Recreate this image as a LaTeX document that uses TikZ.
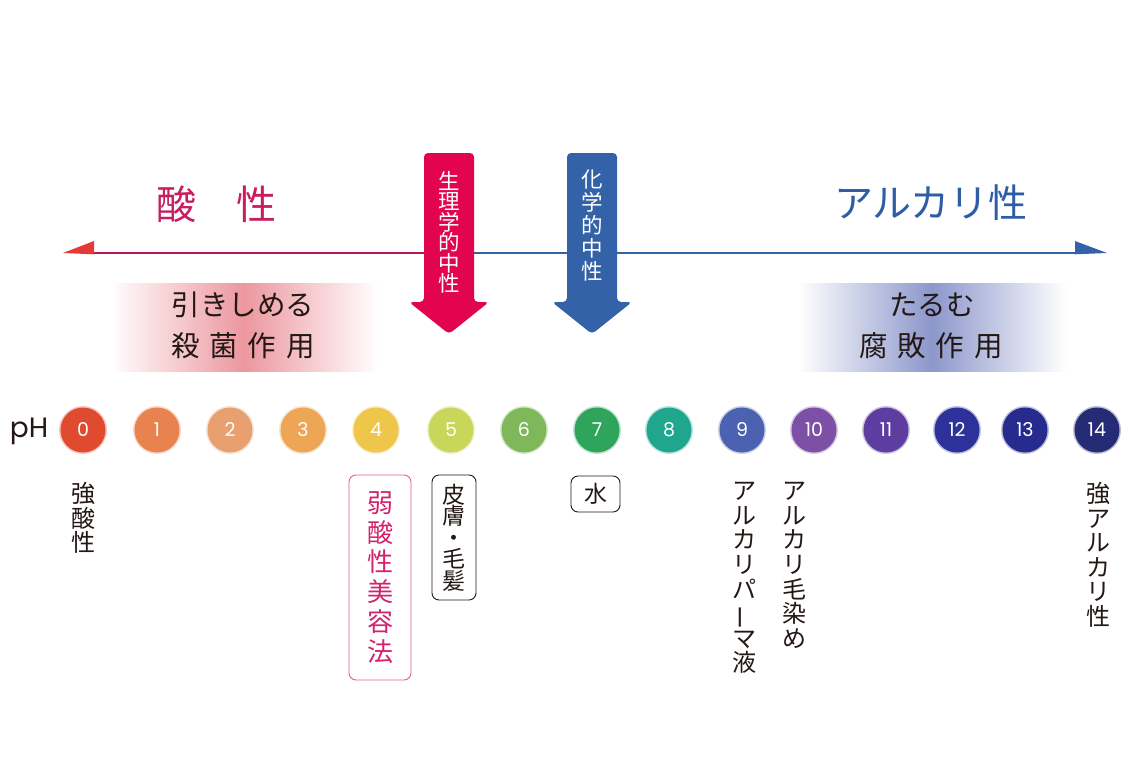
\documentclass[tikz,border=0pt]{standalone}
\usepackage{fontspec}
\setmainfont{Noto Sans CJK JP}
\newfontfamily\geo{Poppins}
\definecolor{acid}{HTML}{C81E5E}
\definecolor{acidline}{HTML}{B8175A}
\definecolor{redtri}{HTML}{E53935}
\definecolor{pinkarrow}{HTML}{E2044F}
\definecolor{bluearrow}{HTML}{3462A8}
\definecolor{alk}{HTML}{2E5DA6}
\definecolor{pinkG}{HTML}{EC979F}
\definecolor{blueG}{HTML}{8C97CB}
\definecolor{ink}{HTML}{231815}
\definecolor{pinktext}{HTML}{D2236C}
\definecolor{pinkbox}{HTML}{DF5C8C}
\definecolor{c0}{HTML}{E04A2E}
\definecolor{c1}{HTML}{E8824E}
\definecolor{c2}{HTML}{E8A070}
\definecolor{c3}{HTML}{EDA656}
\definecolor{c4}{HTML}{EDC64A}
\definecolor{c5}{HTML}{C9D65A}
\definecolor{c6}{HTML}{7EB85A}
\definecolor{c7}{HTML}{2EA55B}
\definecolor{c8}{HTML}{21A68E}
\definecolor{c9}{HTML}{4B62B0}
\definecolor{c10}{HTML}{7D4FA5}
\definecolor{c11}{HTML}{5D3EA0}
\definecolor{c12}{HTML}{2D3199}
\definecolor{c13}{HTML}{272B8E}
\definecolor{c14}{HTML}{252B74}
\newcommand{\vbar}{\rotatebox[origin=c]{90}{ー}}
\begin{document}
\begin{tikzpicture}[x=1pt,y=-1pt,
  every node/.style={inner sep=0pt},
  vlabel/.style={align=center, anchor=north, text=ink, font=\fontsize{24}{24.6}\selectfont},
  phdot/.style={circle, minimum size=45pt, text=white, font=\geo\fontsize{19}{19}\selectfont},
  tagbox/.style={draw=#1, rounded corners=7pt, line width=0.9pt, align=center},
  effect/.style={text=ink, font=\fontsize{28.5}{28.5}\selectfont},
  title/.style={font=\fontsize{40}{40}\selectfont},
  arrowtext/.style={align=center, anchor=north, text=white}
]
\useasboundingbox (0,0) rectangle (1141,761);
\fill[white] (0,0) rectangle (1141,761);

% gradient boxes
\shade[left color=white, right color=white, middle color=pinkG] (110,283) rectangle (378,371);
\shade[left color=white, right color=white, middle color=blueG] (798,283) rectangle (1066,371);

% axis
\coordinate (axL) at (63,253);
\coordinate (axM) at (449,253);
\coordinate (axR) at (1107,253);
\draw[acidline, line width=2.6pt] (axM) -- (94,253);
\draw[bluearrow, line width=2.6pt] (axM) -- (1076,253);
\fill[redtri] (axL) -- (94,241) -- (94,254.3) -- cycle;
\fill[bluearrow] (axR) -- (1075,241) -- (1075,254.3) -- cycle;

% titles
\node[title, text=acid] (acidT) at (216,204) {酸　性};
\node[title, text=alk, font=\fontsize{39}{39}\selectfont] (alkT) at (931,203) {アルカリ性};

% down arrows
\fill[pinkarrow, rounded corners=4pt] (424,302) -- (424,153) -- (474,153) -- (474,302) -- (489,302) -- (449,334) -- (409,302) -- cycle;
\fill[bluearrow, rounded corners=4pt] (567,302) -- (567,153) -- (617,153) -- (617,302) -- (632,302) -- (592,334) -- (552,302) -- cycle;
\node[arrowtext, font=\fontsize{21.5}{20.5}\selectfont] (physN) at (449,171) {生\\理\\学\\的\\中\\性};
\node[arrowtext, font=\fontsize{21.5}{23}\selectfont] (chemN) at (592,170) {化\\学\\的\\中\\性};

% effects
\node[effect] (acid1) at (243,305) {引きしめる};
\node[effect] (acid2) at (243,346) {殺\hspace{10pt}菌\hspace{10pt}作\hspace{10pt}用};
\node[effect] (alk1) at (932,305) {たるむ};
\node[effect] (alk2) at (931,346) {腐\hspace{10pt}敗\hspace{10pt}作\hspace{10pt}用};

% pH scale
\node[text=ink, font=\geo\fontsize{28}{28}\selectfont] (pH) at (29,431) {pH};
\foreach \n/\x in {0/83,1/157,2/230,3/303,4/376,5/451,6/524,7/597,8/669,9/742,10/814,11/886,12/957,13/1025,14/1097}{
  \fill[c\n, opacity=0.3] (\x,430) circle (24);
  \node[phdot, fill=c\n] (p\n) at (\x,430) {\n};
}

% labels
\node[vlabel] (strongAcid) at (83,482) {強\\酸\\性};
\node[tagbox=pinkbox, minimum width=62pt, minimum height=205pt, text=pinktext, font=\fontsize{26}{29.8}\selectfont] (weakAcid) at (380,577.5) {弱\\酸\\性\\美\\容\\法};
\node[tagbox=ink, minimum width=44pt, minimum height=125pt, text=ink, font=\fontsize{23}{21.5}\selectfont] (skin) at (454,537.5) {皮\\膚\\・\\毛\\髪};
\node[tagbox=ink, minimum width=49pt, minimum height=36pt, text=ink, font=\fontsize{23}{23}\selectfont] (water) at (595.5,494) {水};
\node[vlabel] (perm) at (744,482) {ア\\ル\\カ\\リ\\パ\\\vbar\\マ\\液};
\node[vlabel] (dye) at (794,482) {ア\\ル\\カ\\リ\\毛\\染\\め};
\node[vlabel] (strongAlk) at (1098,482) {強\\ア\\ル\\カ\\リ\\性};
\end{tikzpicture}
\end{document}
